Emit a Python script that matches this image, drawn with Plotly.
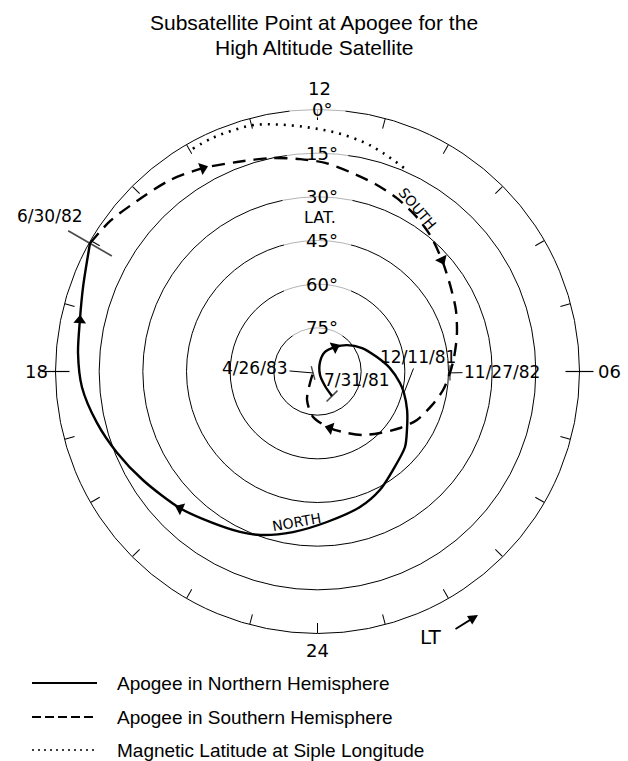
import math
import plotly.graph_objects as go

# ---------------- data (local time in hours, latitude in degrees) ----------------
north_lt = [2.04, 1.83, 2.37, 11.02, 10.60, 9.63, 8.79, 7.85, 6.91, 6.18, 5.47, 5.07,
            4.45, 3.79, 3.28, 2.50, 1.85, 1.16, 0.24, 23.42, 22.71, 22.28, 21.63, 20.99,
            20.13, 19.47, 18.87, 18.25, 17.71, 17.19, 16.68, 16.04]
north_lat = [80.2, 84.4, 88.5, 86.6, 82.8, 79.7, 76.4, 72.7, 69.0, 65.1, 61.4, 59.4,
             56.5, 53.3, 50.3, 47.4, 44.0, 41.2, 38.2, 34.2, 30.5, 28.8, 26.5, 23.4,
             19.4, 15.7, 12.2, 8.9, 7.5, 6.5, 4.4, 0.3]
north_arrows = [5, 23, 29]

south_lt = [16.04, 15.60, 15.11, 14.51, 13.96, 13.40, 12.84, 12.31, 11.86, 11.38, 10.86,
            10.36, 9.87, 9.37, 8.79, 8.21, 7.59, 6.98, 6.38, 5.96, 5.44, 4.91, 4.27,
            3.71, 3.03, 2.37, 1.71, 0.83, 23.63, 22.65, 21.79, 19.23]
south_lat = [0.3, 2.0, 4.7, 7.0, 9.8, 12.9, 14.9, 16.8, 18.3, 20.6, 22.6,
             24.5, 26.7, 29.2, 32.6, 35.6, 38.0, 40.5, 42.9, 44.5, 46.4, 49.0, 52.0,
             55.6, 59.9, 63.2, 66.6, 70.1, 74.3, 79.6, 85.3, 88.4]
south_arrows = [4, 14, 27]

siple_lt = [13.95, 13.62, 13.32, 12.98, 12.58, 12.12, 11.69, 11.25, 10.89, 10.41]
siple_lat = [2.3, 2.0, 2.2, 2.5, 4.2, 6.2, 7.8, 9.6, 11.6, 14.3]

lat_circles = [0, 15, 30, 45, 60, 75]
lat_labels = ["0°", "15°", "30°", "45°", "60°", "75°"]
hour_ticks = list(range(24))
hour_label_lt = [0, 6, 12, 18]
hour_label_text = ["24", "06", "12", "18"]

# date markers: (label, track, index)
date_labels = ["7/31/81", "12/11/81", "6/30/82", "11/27/82", "4/26/83"]
date_track = ["N", "N", "N", "S", "S"]
date_index = [0, 11, 31, 19, 31]

title_lines = ["Subsatellite Point at Apogee for the", "High Altitude Satellite"]
legend_names = ["Apogee in Northern Hemisphere",
                "Apogee in Southern Hemisphere",
                "Magnetic Latitude at Siple Longitude"]

# ---------------- geometry ----------------
W, H = 628, 761
CX, CY, R = 317.5, 371.5, 262.0
LBL = "DejaVu Sans"
TXT = "Liberation Sans, Arial, sans-serif"


def colat(lat):
    return [90 - v for v in lat]


def deg(lt):
    return [v * 15 for v in lt]


def to_paper(lt, lat, extra_px=0.0):
    r = (90 - lat) / 90 * R + extra_px
    t = math.radians(lt * 15)
    x = CX + r * math.sin(t)
    y = CY + r * math.cos(t)
    return x / W, 1 - y / H


def pt(track, i):
    if track == "N":
        return north_lt[i], north_lat[i]
    return south_lt[i], south_lat[i]


fig = go.Figure()

# white masks behind the latitude labels (gaps in the circles)
fig.add_trace(go.Scatterpolar(
    theta=[180] * len(lat_circles), r=colat(lat_circles), mode="markers",
    marker=dict(symbol="line-ew", size=[40, 44, 50, 48, 48, 46],
                line=dict(color="white", width=16), color="white"),
    cliponaxis=False, hoverinfo="skip"))

# outward part of 06 / 18 ticks
fig.add_trace(go.Scatterpolar(
    theta=[90, 270], r=[90, 90], mode="markers",
    marker=dict(symbol="line-ew", size=20, line=dict(color="black", width=1.2)),
    cliponaxis=False, hoverinfo="skip"))

# magnetic latitude at Siple longitude
fig.add_trace(go.Scatterpolar(
    theta=deg(siple_lt), r=colat(siple_lat), mode="lines",
    line=dict(color="black", width=2.6, dash="2px,6px", shape="spline"),
    hoverinfo="skip"))


def track_trace(lt, lat, arrows, dash):
    sizes = [11 if i in arrows else 0 for i in range(len(lt))]
    return go.Scatterpolar(
        theta=deg(lt), r=colat(lat), mode="lines+markers",
        line=dict(color="black", width=2.4, dash=dash, shape="spline", smoothing=0.8),
        marker=dict(symbol="triangle-up", size=sizes, color="black", angleref="previous",
                    opacity=1, line=dict(width=0)),
        cliponaxis=False, hoverinfo="skip")


fig.add_trace(track_trace(south_lt, south_lat, south_arrows, "13px,8px"))
fig.add_trace(track_trace(north_lt, north_lat, north_arrows, "solid"))

# date tick marks across the tracks
d_lt = [pt(t, i)[0] for t, i in zip(date_track, date_index)]
d_lat = [pt(t, i)[1] for t, i in zip(date_track, date_index)]
fig.add_trace(go.Scatterpolar(
    theta=deg(d_lt), r=colat(d_lat), mode="markers",
    marker=dict(symbol="line-ew", size=[11, 0, 36, 11, 10], angle=[-45, 0, 30, 90, 75],
                line=dict(color="black", width=[1.6, 0, 1.8, 1.4, 1.4])),
    cliponaxis=False, hoverinfo="skip"))

annotations = []


def label(x, y, text, size, family=LBL, **kw):
    a = dict(x=x, y=y, xref="paper", yref="paper", text=text, showarrow=False,
             xanchor="center", yanchor="middle",
             font=dict(family=family, size=size, color="black"))
    a.update(kw)
    annotations.append(a)


# title
for txt, yy in zip(title_lines, [22, 48]):
    label(0.5, 1 - yy / H, txt, 21, TXT)

# hour labels outside the rim
hour_label_gap = [17, 30, 21, 19]
for lt, txt, gap in zip(hour_label_lt, hour_label_text, hour_label_gap):
    x, y = to_paper(lt, 0, gap)
    label(x, y, txt, 18, xshift=2 if lt == 12 else 0)

# latitude circle labels
for la, txt in zip(lat_circles, lat_labels):
    x, y = to_paper(12, la)
    label(x, y, txt, 18, xshift=4)
x, y = to_paper(12, 37.2)
label(x, y, "LAT.", 16, xshift=2)

# date labels
date_offsets = [(25, -16, False), (14, -36, True), (-40, -27, False), (52, -1, True), (-58, -5, True)]
for lbl, t, i, (ox, oy, arrow) in zip(date_labels, date_track, date_index, date_offsets):
    x, y = to_paper(*pt(t, i))
    if arrow:
        annotations.append(dict(x=x, y=y, xref="paper", yref="paper", text=lbl,
                                font=dict(family=LBL, size=17, color="black"),
                                showarrow=True, ax=ox, ay=oy, arrowhead=0, arrowwidth=1,
                                arrowcolor="black", standoff=0))
    else:
        label(x, y, lbl, 17, xshift=ox, yshift=-oy)

# track names
for txt, lt, la, ang in [("NORTH", 23.48, 37.8, -10), ("SOUTH", 9.91, 24.3, 50)]:
    x, y = to_paper(lt, la)
    label(x, y, txt, 14, textangle=ang)

# LT direction
label(430 / W, 1 - 637 / H, "LT", 20)
annotations.append(dict(x=478 / W, y=1 - 615 / H, xref="paper", yref="paper", text="",
                        showarrow=True, ax=-24, ay=15, arrowhead=2, arrowsize=1.1,
                        arrowwidth=1.8, arrowcolor="black", standoff=0))

# legend
shapes = []
leg_y = [683, 717, 750]
leg_dash = ["solid", "9px,4px", "2px,4px"]
leg_w = [2, 2, 1.6]
for name, yy, ds, lw in zip(legend_names, leg_y, leg_dash, leg_w):
    shapes.append(dict(type="line", xref="paper", yref="paper", x0=32 / W, x1=97 / W,
                       y0=1 - yy / H, y1=1 - yy / H, line=dict(color="black", width=lw, dash=ds)))
    label(115 / W, 1 - yy / H, name, 19, TXT, xanchor="left")

fig.update_layout(
    width=W, height=H, margin=dict(l=0, r=0, t=0, b=0),
    paper_bgcolor="white", plot_bgcolor="white", showlegend=False,
    polar=dict(
        domain=dict(x=[(CX - R) / W, (CX + R) / W], y=[1 - (CY + R) / H, 1 - (CY - R) / H]),
        bgcolor="white",
        radialaxis=dict(range=[0, 90], tickvals=[90 - v for v in lat_circles[1:]],
                        showticklabels=False, ticks="", showline=False,
                        gridcolor="black", gridwidth=1, layer="below traces"),
        angularaxis=dict(rotation=270, direction="counterclockwise", thetaunit="degrees",
                         tickmode="array", tickvals=[h * 15 for h in hour_ticks],
                         showticklabels=False,
                         ticks="inside", ticklen=10, tickwidth=1, tickcolor="black",
                         showgrid=False, showline=True, linecolor="black", linewidth=1,
                         layer="below traces"),
    ),
    annotations=annotations, shapes=shapes,
)

fig.write_html("out.html", config={"displayModeBar": False},
               post_script="document.body.style.margin='0px';")
